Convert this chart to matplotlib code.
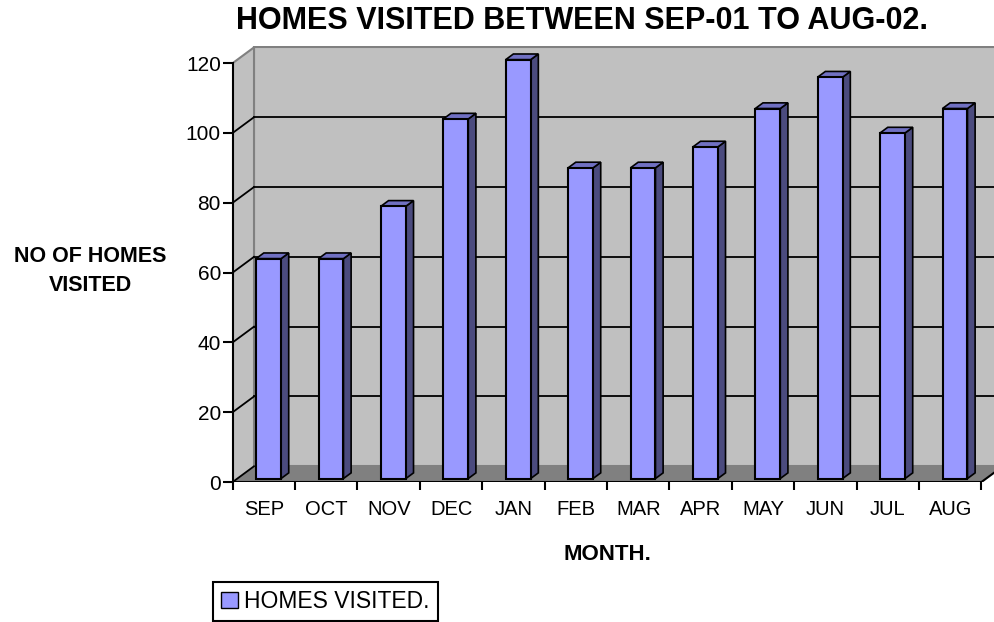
import matplotlib
matplotlib.use("Agg")
from matplotlib import pyplot as plt
from matplotlib.patches import Polygon, Rectangle, Patch

plt.rcParams['font.family'] = ['Liberation Sans', 'DejaVu Sans']

months = ['SEP', 'OCT', 'NOV', 'DEC', 'JAN', 'FEB', 'MAR', 'APR', 'MAY', 'JUN', 'JUL', 'AUG']
homes_visited = [63, 63, 78, 103, 120, 89, 89, 95, 106, 115, 99, 106]
y_ticks = [0, 20, 40, 60, 80, 100, 120]

# fake 3d: offset of the back wall, in data units
DX, DY = 0.341, 4.5
BAR_W, BAR_START, BAR_DEPTH = 0.4, 0.22, 0.36
FRONT, SIDE, TOP = '#9999FF', '#4B4B7E', '#7070C2'

W_PX, H_PX = 995, 622
fig = plt.figure(figsize=(W_PX / 100, H_PX / 100), dpi=100)
ax = fig.add_axes([232.7 / W_PX, (H_PX - 482) / H_PX, (W_PX - 232.7) / W_PX, (482 - 46) / H_PX])

n = len(months)
ymax = y_ticks[-1]
ax.set_xlim(0, (W_PX - 232.7) / 62.4)
ax.set_ylim(0, ymax + DY + 0.4)

# walls and floor
ax.add_patch(Rectangle((DX, DY), 20, ymax, facecolor='#C0C0C0', edgecolor='#808080', lw=1.5, zorder=0))
ax.add_patch(Polygon([(0, 0), (0, ymax), (DX, ymax + DY), (DX, DY)],
                     facecolor='#C0C0C0', edgecolor='none', zorder=0))
ax.add_patch(Polygon([(0, 0), (n, 0), (n + DX, DY), (DX, DY)],
                     facecolor='#808080', edgecolor='none', zorder=1))
ax.plot([DX, DX], [DY, ymax + DY], color='#808080', lw=1.5, zorder=1)
ax.plot([0, DX], [ymax, ymax + DY], color='#808080', lw=1.5, zorder=1)
for v in y_ticks[:-1]:
    ax.plot([0, DX], [v, v + DY], color='black', lw=1.3, zorder=1)
    if v > 0:
        ax.plot([DX, 20], [v + DY, v + DY], color='black', lw=1.3, zorder=1)
ax.plot([0, n], [0, 0], color='black', lw=1.5, zorder=2)
ax.plot([n, n + DX], [0, DY], color='black', lw=1.5, zorder=2)

# bars
bx0, by0 = BAR_START * DX, BAR_START * DY
bdx, bdy = BAR_DEPTH * DX, BAR_DEPTH * DY
for i, val in enumerate(homes_visited):
    xl = i + 0.5 - BAR_W / 2 + bx0
    xr = xl + BAR_W
    top = by0 + val
    ax.add_patch(Polygon([(xr, by0), (xr + bdx, by0 + bdy), (xr + bdx, top + bdy), (xr, top)],
                         facecolor=SIDE, edgecolor='black', lw=1.2, zorder=3))
    ax.add_patch(Polygon([(xl, top), (xr, top), (xr + bdx, top + bdy), (xl + bdx, top + bdy)],
                         facecolor=TOP, edgecolor='black', lw=1.2, zorder=3))
    ax.add_patch(Rectangle((xl, by0), BAR_W, val, facecolor=FRONT, edgecolor='black', lw=1.5, zorder=4))

# axes and ticks
for s in ['top', 'right', 'bottom']:
    ax.spines[s].set_visible(False)
ax.spines['left'].set_bounds(0, ymax)
ax.spines['left'].set_linewidth(1.5)
ax.set_yticks(y_ticks)
ax.tick_params(axis='y', length=7, width=1.5, labelsize=15, pad=1.5)
ax.set_xticks(range(n + 1))
ax.set_xticklabels([])
ax.tick_params(axis='x', which='major', length=6, width=1.5)
ax.set_xticks([i + 0.5 for i in range(n)], minor=True)
ax.set_xticklabels(months, minor=True, fontsize=14.5)
ax.tick_params(axis='x', which='minor', length=0, pad=13)

fig.text(582 / W_PX, 1 - 21 / H_PX, 'HOMES VISITED BETWEEN SEP-01 TO AUG-02.',
         fontsize=22, fontweight='bold', ha='center', va='center')
fig.text(90 / W_PX, 1 - 271 / H_PX, 'NO OF HOMES\nVISITED', fontsize=15.5,
         fontweight='bold', ha='center', va='center', linespacing=1.5)
fig.text(607 / W_PX, 1 - 555 / H_PX, 'MONTH.', fontsize=16, fontweight='bold',
         ha='center', va='center')

fig.legend(handles=[Patch(facecolor=FRONT, edgecolor='black', label='HOMES VISITED.')],
           loc='lower left', bbox_to_anchor=(213 / W_PX, 1 / H_PX), fontsize=16.5,
           fancybox=False, edgecolor='black', framealpha=1, borderaxespad=0,
           handlelength=0.72, handleheight=0.72, handletextpad=0.3, borderpad=0.35
           ).get_frame().set_linewidth(1.5)

fig.savefig('out.png', dpi=100)
